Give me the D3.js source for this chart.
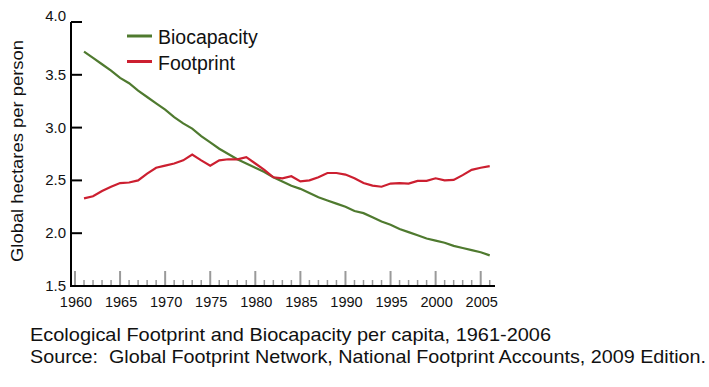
<!DOCTYPE html>
<html>
<head>
<meta charset="utf-8">
<script src="https://cdn.jsdelivr.net/npm/d3@7"></script>
<style>
  body { margin: 0; background: #fff; }
  svg { display: block; font-family: "Liberation Sans", Arial, sans-serif; }
  .pre { white-space: pre; }
</style>
</head>
<body>
<svg id="chart" width="709" height="387"></svg>
<script>
// == Daten ==
const YEARS = d3.range(1961, 2007);
const BIOCAPACITY = [
  3.72, 3.66, 3.60, 3.54, 3.47, 3.42, 3.35, 3.29, 3.23, 3.17,
  3.10, 3.04, 2.99, 2.92, 2.86, 2.80, 2.75, 2.70, 2.66, 2.62,
  2.58, 2.53, 2.49, 2.45, 2.42, 2.38, 2.34, 2.31, 2.28, 2.25,
  2.21, 2.19, 2.15, 2.11, 2.08, 2.04, 2.01, 1.98, 1.95, 1.93,
  1.91, 1.88, 1.86, 1.84, 1.82, 1.79
];
const FOOTPRINT = [
  2.33, 2.35, 2.40, 2.44, 2.475, 2.48, 2.50, 2.565, 2.62, 2.64,
  2.66, 2.69, 2.745, 2.69, 2.64, 2.69, 2.70, 2.70, 2.72, 2.66,
  2.60, 2.53, 2.52, 2.54, 2.49, 2.50, 2.53, 2.57, 2.57, 2.555,
  2.52, 2.475, 2.45, 2.44, 2.47, 2.475, 2.47, 2.495, 2.495, 2.52,
  2.50, 2.505, 2.55, 2.60, 2.62, 2.635
];
const Y_TICKS = [1.5, 2.0, 2.5, 3.0, 3.5, 4.0];
const X_LABELS = d3.range(1960, 2006, 5);
const SERIES_NAMES = ['Biocapacity', 'Footprint'];
const CAPTION = [
  'Ecological Footprint and Biocapacity per capita, 1961-2006',
  'Source:  Global Footprint Network, National Footprint Accounts, 2009 Edition.'
];
// gemessene Breiten der Unterschrift im Original
const CAPTION_WIDTHS = [521, 676];

const GREEN = '#4f7a2f';
const RED = '#cc1f30';

const svg = d3.select('#chart');

// Skalen: 1960 -> 75px, 2005 -> 480.7px ; 4.0 -> 22px, 1.5 -> 286px
const x = d3.scaleLinear().domain([1960, 2005]).range([75, 480.7]);
const y = d3.scaleLinear().domain([1.5, 4.0]).range([286, 22]);

// == Achsen ==
// kleine und grosse Striche an der x-Achse (grau, nach oben)
const minor = d3.range(1961, 2007).filter(v => v % 5 !== 0);
svg.append('g')
  .selectAll('line')
  .data(minor)
  .enter().append('line')
  .attr('x1', d => x(d)).attr('x2', d => x(d))
  .attr('y1', y(1.5)).attr('y2', y(1.5) - 6)
  .attr('stroke', '#9a9a9a').attr('stroke-width', 1.5);

svg.append('g')
  .selectAll('line')
  .data(X_LABELS)
  .enter().append('line')
  .attr('x1', d => x(d)).attr('x2', d => x(d))
  .attr('y1', y(1.5)).attr('y2', y(1.5) - 15)
  .attr('stroke', '#9a9a9a').attr('stroke-width', 2);

// x-Achse Grundlinie
svg.append('line')
  .attr('x1', 70).attr('x2', 495)
  .attr('y1', y(1.5)).attr('y2', y(1.5))
  .attr('stroke', '#000').attr('stroke-width', 2);

// Beschriftung x
svg.append('g')
  .selectAll('text')
  .data(X_LABELS)
  .enter().append('text')
  .attr('x', d => x(d) + 1)
  .attr('y', 306.5)
  .attr('text-anchor', 'middle')
  .attr('font-size', 14.5)
  .attr('fill', '#111')
  .text(d => d);

// y-Achse: Linie, Striche nach innen, Beschriftung
svg.append('line')
  .attr('x1', 71).attr('x2', 71)
  .attr('y1', y(4.0)).attr('y2', y(1.5) + 1)
  .attr('stroke', '#000').attr('stroke-width', 2);

svg.append('g')
  .selectAll('line')
  .data(Y_TICKS.filter(v => v > 1.5))
  .enter().append('line')
  .attr('x1', 71).attr('x2', 82)
  .attr('y1', d => y(d)).attr('y2', d => y(d))
  .attr('stroke', '#000').attr('stroke-width', 2);

svg.append('g')
  .selectAll('text')
  .data(Y_TICKS)
  .enter().append('text')
  .attr('x', 66)
  .attr('y', d => y(d) + (d === 4.0 ? -1 : 5))
  .attr('text-anchor', 'end')
  .attr('font-size', 15)
  .attr('fill', '#111')
  .text(d => d.toFixed(1));

svg.append('text')
  .attr('transform', 'translate(23,151) rotate(-90)')
  .attr('text-anchor', 'middle')
  .attr('font-size', 17)
  .attr('textLength', 222)
  .attr('lengthAdjust', 'spacingAndGlyphs')
  .attr('fill', '#111')
  .text('Global hectares per person');

// == Linien ==
const line = d3.line()
  .x((d, i) => x(YEARS[i]))
  .y(d => y(d));

svg.append('path')
  .datum(BIOCAPACITY)
  .attr('d', line)
  .attr('fill', 'none')
  .attr('stroke', GREEN)
  .attr('stroke-width', 2.2);

svg.append('path')
  .datum(FOOTPRINT)
  .attr('d', line)
  .attr('fill', 'none')
  .attr('stroke', RED)
  .attr('stroke-width', 2.2);

// == Legende ==
const legend = svg.append('g')
  .selectAll('g')
  .data(SERIES_NAMES)
  .enter().append('g')
  .attr('transform', (d, i) => `translate(127,${36 + i * 25.5})`);

legend.append('line')
  .attr('x1', 0).attr('x2', 25)
  .attr('stroke', (d, i) => i === 0 ? GREEN : RED)
  .attr('stroke-width', 3);

legend.append('text')
  .attr('x', 31)
  .attr('y', 8)
  .attr('font-size', 19.5)
  .attr('fill', '#111')
  .text(d => d);

// == Unterschrift ==
svg.append('g')
  .selectAll('text')
  .data(CAPTION)
  .enter().append('text')
  .attr('class', 'pre')
  .attr('x', 30)
  .attr('y', (d, i) => 341 + i * 22)
  .attr('font-size', 18.5)
  .attr('textLength', (d, i) => CAPTION_WIDTHS[i])
  .attr('lengthAdjust', 'spacingAndGlyphs')
  .attr('fill', '#111')
  .text(d => d);
</script>
</body>
</html>
